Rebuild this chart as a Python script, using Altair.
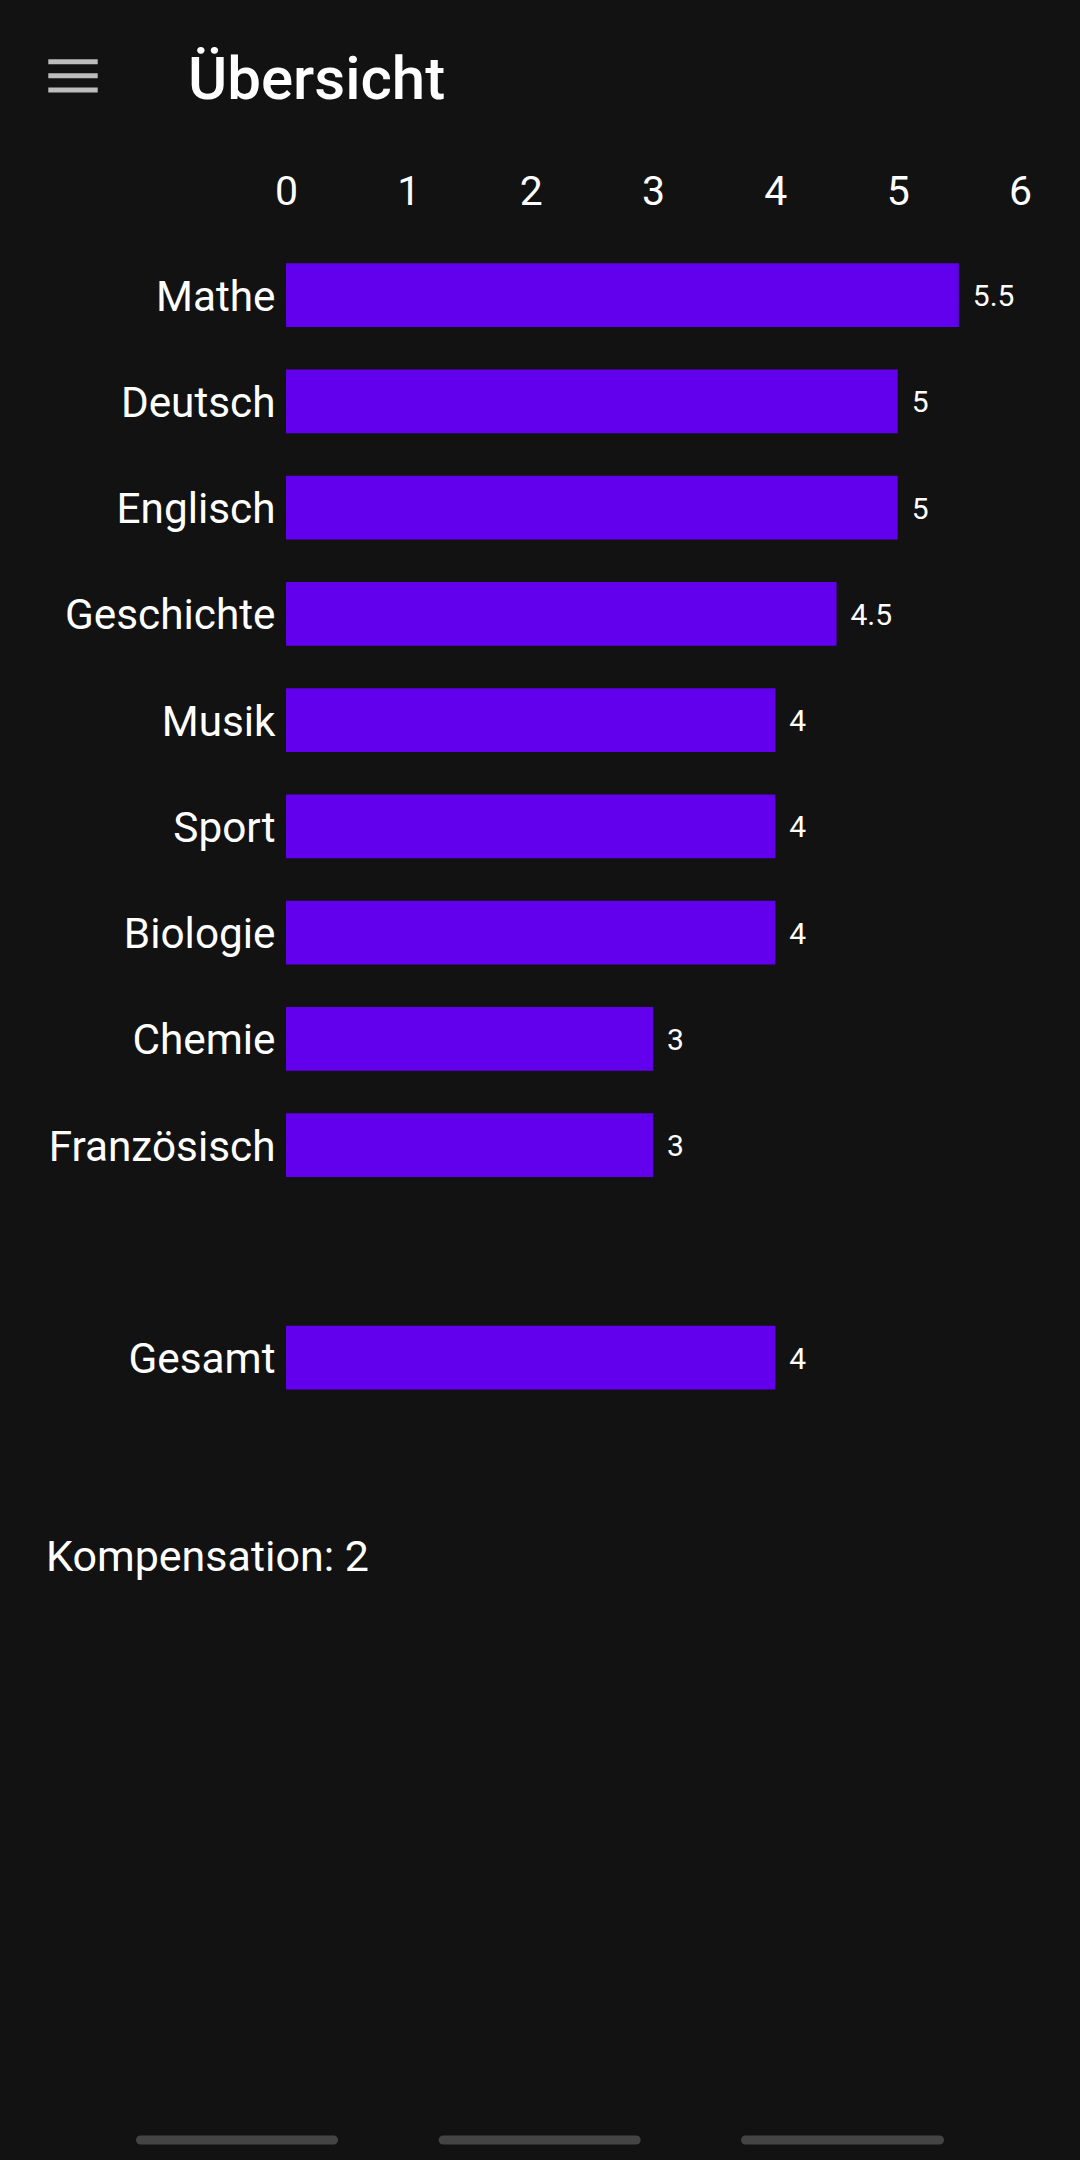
import altair as alt
import pandas as pd

# ---- data ----
subjects = ["Mathe", "Deutsch", "Englisch", "Geschichte", "Musik", "Sport",
            "Biologie", "Chemie", "Französisch", "Gesamt"]
grades = [5.5, 5, 5, 4.5, 4, 4, 4, 3, 3, 4]
grade_labels = ["5.5", "5", "5", "4.5", "4", "4", "4", "3", "3", "4"]
category_order = ["Mathe", "Deutsch", "Englisch", "Geschichte", "Musik", "Sport",
                  "Biologie", "Chemie", "Französisch", "", "Gesamt"]
x_ticks = [0, 1, 2, 3, 4, 5, 6]
page_title = "Übersicht"
kompensation = 2

BG = "#121212"
BAR = "#6200EE"
FONT = "Roboto"

df = pd.DataFrame({"Fach": subjects, "Note": grades, "Label": grade_labels})

x_enc = alt.X(
    "Note:Q",
    title="",
    scale=alt.Scale(domain=[0, 6], nice=False, zero=True),
    axis=alt.Axis(orient="top", values=x_ticks, format="d", labelFontSize=41,
                  labelColor="#ffffff", labelFont=FONT, domain=False, ticks=False,
                  tickSize=0, grid=False, labelPadding=29, labelFlush=False),
)
y_enc = alt.Y(
    "Fach:N",
    title="",
    scale=alt.Scale(domain=category_order, paddingInner=0.4, paddingOuter=0.2),
    axis=alt.Axis(labelFontSize=42.3, labelColor="#ffffff", labelFont=FONT,
                  domain=False, ticks=False, tickSize=0, grid=False,
                  labelPadding=11, labelOffset=2.5, labelLimit=500),
)

bars = alt.Chart(df).mark_bar(color=BAR).encode(x=x_enc, y=y_enc)

values = alt.Chart(df).mark_text(
    align="left", baseline="middle", dx=14, dy=2, fontSize=30,
    font=FONT, color="#ffffff"
).encode(x=x_enc, y=y_enc, text="Label:N")

title_txt = alt.Chart(pd.DataFrame({"t": [page_title]})).mark_text(
    align="left", baseline="alphabetic", fontSize=60, fontWeight=500,
    font=FONT, color="#ffffff"
).encode(x=alt.value(-98), y=alt.value(-142.7), text="t:N")

komp_txt = alt.Chart(pd.DataFrame({"t": [f"Kompensation: {kompensation}"]})).mark_text(
    align="left", baseline="alphabetic", fontSize=43,
    font=FONT, color="#ffffff"
).encode(x=alt.value(-240), y=alt.value(1329), text="t:N")

one = pd.DataFrame({"a": [0]})
menu_lines = [
    alt.Chart(one).mark_rule(color="#bdbdbd", strokeWidth=5).encode(
        x=alt.value(-237.7), x2=alt.value(-188.3), y=alt.value(yy))
    for yy in (-180.3, -166.2, -152.0)
]
nav_bars = [
    alt.Chart(one).mark_rule(color="#444444", strokeWidth=9, strokeCap="round").encode(
        x=alt.value(x1), x2=alt.value(x2), y=alt.value(1898))
    for x1, x2 in ((-145.5, 47.5), (157.2, 350.2), (459.5, 653.5))
]

chart = alt.layer(bars, values, title_txt, komp_txt, *menu_lines, *nav_bars).properties(
    width=734,
    height=1168.75,
    background=BG,
    padding={"left": 286, "top": 242, "right": 60, "bottom": 749.25},
    autosize=alt.AutoSizeParams(type="none"),
).configure_view(strokeWidth=0)

chart.save("out.html", embed_options={"renderer": "svg", "actions": False})
